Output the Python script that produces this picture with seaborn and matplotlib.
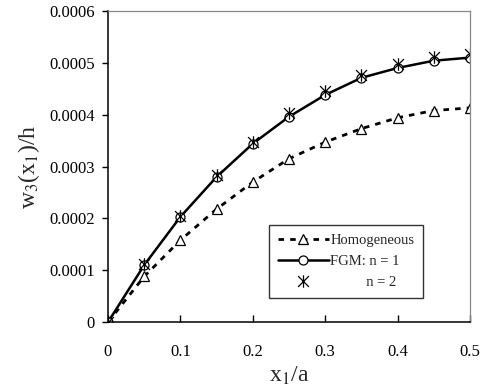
import pandas as pd
import matplotlib
matplotlib.use("Agg")
import matplotlib.pyplot as plt
from matplotlib.path import Path
import seaborn as sns

x = [0, 0.05, 0.1, 0.15, 0.2, 0.25, 0.3, 0.35, 0.4, 0.45, 0.5]
homog = [0, 0.88e-4, 1.58e-4, 2.18e-4, 2.70e-4, 3.15e-4, 3.47e-4, 3.73e-4, 3.94e-4, 4.08e-4, 4.13e-4]
fgm_n1 = [0, 1.10e-4, 2.03e-4, 2.80e-4, 3.44e-4, 3.96e-4, 4.38e-4, 4.71e-4, 4.90e-4, 5.04e-4, 5.10e-4]
fgm_n2 = [0, 1.12e-4, 2.05e-4, 2.83e-4, 3.48e-4, 4.04e-4, 4.46e-4, 4.77e-4, 4.97e-4, 5.12e-4, 5.17e-4]
yticks = [0, 0.0001, 0.0002, 0.0003, 0.0004, 0.0005, 0.0006]
xticks = [0, 0.1, 0.2, 0.3, 0.4, 0.5]

sns.set_theme(style="white")
plt.rcParams["font.family"] = ["Liberation Serif", "DejaVu Serif"]
plt.rcParams["mathtext.fontset"] = "stix"

# excel-style asterisk: an X with a vertical bar through it
star = Path([(-1, -1), (1, 1), (-1, 1), (1, -1), (0, -1.15), (0, 1.15)],
            [Path.MOVETO, Path.LINETO, Path.MOVETO, Path.LINETO, Path.MOVETO, Path.LINETO])

df = pd.DataFrame({"x": x, "homog": homog, "n1": fgm_n1, "n2": fgm_n2})

fig = plt.figure(figsize=(4.8, 3.9), dpi=100)
ax = fig.add_axes([0.225, 0.174, 0.754, 0.798])

sns.lineplot(data=df, x="x", y="homog", ax=ax, color="black", lw=2,
             linestyle=(0, (2, 2.2)), marker="^", markersize=7,
             markerfacecolor="white", markeredgecolor="black", markeredgewidth=0.9,
             label="Homogeneous")
sns.lineplot(data=df, x="x", y="n1", ax=ax, color="black", lw=1.8,
             marker="o", markersize=6.5, markerfacecolor="white",
             markeredgecolor="black", markeredgewidth=0.9, label="FGM: n = 1")
sns.lineplot(data=df, x="x", y="n2", ax=ax, color="black", lw=0,
             marker=star, markersize=9, markeredgewidth=0.9,
             markeredgecolor="black", label="          n = 2")

ax.set_xlim(0, 0.5)
ax.set_ylim(0, 0.0006)
ax.set_xticks(xticks)
ax.set_xticklabels(["0", "0.1", "0.2", "0.3", "0.4", "0.5"])
ax.set_yticks(yticks)
ax.set_yticklabels(["0", "0.0001", "0.0002", "0.0003", "0.0004", "0.0005", "0.0006"])
ax.tick_params(axis="y", direction="out", length=4.5, width=1, colors="black",
               labelsize=12, left=True, pad=5)
ax.tick_params(axis="x", direction="in", length=5, width=1, colors="black",
               labelsize=12, bottom=True, pad=16)

for s in ["left", "bottom"]:
    ax.spines[s].set_color("black")
    ax.spines[s].set_linewidth(1.1)
for s in ["top", "right"]:
    ax.spines[s].set_color("#888888")
    ax.spines[s].set_linewidth(0.9)

ax.set_xlabel("x$_1$/a", fontsize=17, labelpad=3)
ax.set_ylabel("w$_3$(x$_1$)/h", fontsize=17, labelpad=5)

leg = ax.legend(loc="lower right", bbox_to_anchor=(0.87, 0.077), fontsize=10.5,
                frameon=True, fancybox=False, edgecolor="black",
                handlelength=3.5, handletextpad=0.1, borderpad=0.6,
                labelspacing=0.55, borderaxespad=0)
leg.get_frame().set_linewidth(1.0)

fig.savefig("out.png", dpi=100)
